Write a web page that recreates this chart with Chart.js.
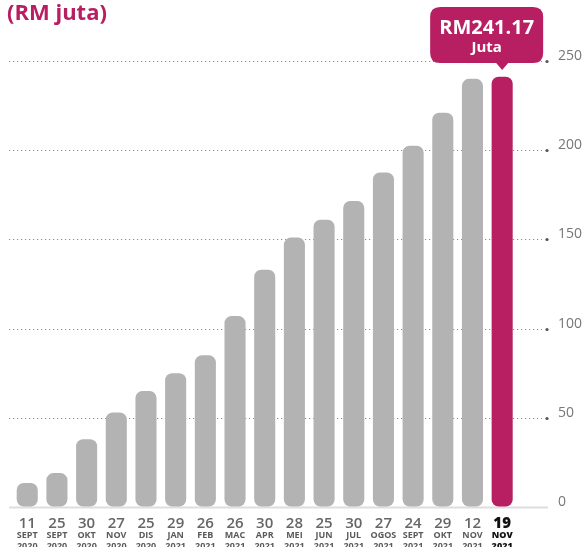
<!DOCTYPE html>
<html>
<head>
<meta charset="utf-8">
<script src="https://cdn.jsdelivr.net/npm/chart.js@4.4.0/dist/chart.umd.min.js"></script>
<style>
  html, body { margin: 0; padding: 0; background: #ffffff; }
  #wrap { position: relative; width: 583px; height: 547px; overflow: hidden; }
  canvas { display: block; }
</style>
</head>
<body>
<div id="wrap"><canvas id="c" width="583" height="547"></canvas></div>
<script>
const titleText = '(RM juta)';
const days = ['11','25','30','27','25','29','26','26','30','28','25','30','27','24','29','12','19'];
const months = ['SEPT','SEPT','OKT','NOV','DIS','JAN','FEB','MAC','APR','MEI','JUN','JUL','OGOS','SEPT','OKT','NOV','NOV'];
const years = ['2020','2020','2020','2020','2020','2021','2021','2021','2021','2021','2021','2021','2021','2021','2021','2021','2021'];
const values = [13.5, 19, 38, 53, 65, 75, 85, 107, 133, 151, 161, 171.5, 187.5, 202.5, 221, 240, 241.17];
const yTicks = [0, 50, 100, 150, 200, 250];
const calloutUnit = 'Juta';

const GREY = '#b3b3b3';
const MAGENTA = '#b81f62';
const FONT = '"Open Sans", "DejaVu Sans", sans-serif';

const lastIdx = values.length - 1;
const labels = days.map((d, i) => d + ' ' + months[i] + ' ' + years[i]);

const decorPlugin = {
  id: 'decor',
  beforeDatasetsDraw(chart) {
    const ctx = chart.ctx;
    const y = chart.scales.y;
    ctx.save();
    yTicks.forEach(v => {
      const py = Math.round(y.getPixelForValue(v)) + 0.5;
      if (v === 0) {
        ctx.strokeStyle = '#dedede';
        ctx.lineWidth = 2;
        ctx.setLineDash([]);
        ctx.beginPath();
        ctx.moveTo(9, py);
        ctx.lineTo(548, py);
        ctx.stroke();
      } else {
        ctx.strokeStyle = '#8c8c8c';
        ctx.lineWidth = 1.2;
        ctx.setLineDash([1.2, 2.8]);
        ctx.beginPath();
        ctx.moveTo(9, py);
        ctx.lineTo(542, py);
        ctx.stroke();
        ctx.setLineDash([]);
        ctx.fillStyle = '#555555';
        ctx.beginPath();
        ctx.arc(547, py, 1.6, 0, Math.PI * 2);
        ctx.fill();
      }
    });
    ctx.restore();
  },
  afterDraw(chart) {
    const ctx = chart.ctx;
    const x = chart.scales.x;
    ctx.save();
    // title
    ctx.fillStyle = MAGENTA;
    ctx.font = 'bold 22px ' + FONT;
    ctx.textAlign = 'left';
    ctx.textBaseline = 'alphabetic';
    ctx.fillText(titleText, 7, 20);

    // x labels
    ctx.textAlign = 'center';
    ctx.textBaseline = 'middle';
    days.forEach((d, i) => {
      const px = x.getPixelForValue(i);
      const last = i === lastIdx;
      ctx.fillStyle = last ? '#111111' : '#666666';
      ctx.font = (last ? '800 ' : '600 ') + '15px ' + FONT;
      ctx.fillText(d, px, 524);
      ctx.font = (last ? '800 ' : '700 ') + '9px ' + FONT;
      ctx.fillStyle = last ? '#111111' : '#5a5a5a';
      ctx.fillText(months[i], px, 535.5);
      ctx.fillText(years[i], px, 546.5);
    });

    // callout
    const meta = chart.getDatasetMeta(0);
    const bar = meta.data[lastIdx];
    const bx = bar.x;
    const left = bx - 72, right = bx + 41, top = 7, bottom = 63, r = 10;
    ctx.fillStyle = MAGENTA;
    ctx.beginPath();
    ctx.moveTo(left + r, top);
    ctx.lineTo(right - r, top);
    ctx.quadraticCurveTo(right, top, right, top + r);
    ctx.lineTo(right, bottom - r);
    ctx.quadraticCurveTo(right, bottom, right - r, bottom);
    ctx.lineTo(bx + 6, bottom);
    ctx.lineTo(bx, bottom + 7);
    ctx.lineTo(bx - 6, bottom);
    ctx.lineTo(left + r, bottom);
    ctx.quadraticCurveTo(left, bottom, left, bottom - r);
    ctx.lineTo(left, top + r);
    ctx.quadraticCurveTo(left, top, left + r, top);
    ctx.closePath();
    ctx.fill();
    const cx = (left + right) / 2;
    ctx.fillStyle = '#ffffff';
    ctx.font = 'bold 20px ' + FONT;
    ctx.fillText('RM' + values[lastIdx].toFixed(2), cx, 28);
    ctx.font = 'bold 15px ' + FONT;
    ctx.fillText(calloutUnit, cx, 48);
    ctx.restore();
  }
};

new Chart(document.getElementById('c'), {
  type: 'bar',
  data: {
    labels: labels,
    datasets: [{
      data: values,
      backgroundColor: values.map((v, i) => i === lastIdx ? MAGENTA : GREY),
      borderWidth: 0,
      borderRadius: 7,
      borderSkipped: false,
      barPercentage: 0.71,
      categoryPercentage: 1
    }]
  },
  options: {
    responsive: false,
    animation: false,
    devicePixelRatio: 1,
    layout: { padding: { top: 61, left: 12.4, bottom: 40, right: 0 } },
    plugins: { legend: { display: false }, tooltip: { enabled: false }, title: { display: false } },
    scales: {
      x: {
        display: false,
        offset: true,
        grid: { display: false }
      },
      y: {
        position: 'right',
        min: 0,
        max: 250,
        afterBuildTicks(scale) { scale.ticks = yTicks.map(v => ({ value: v })); },
        afterFit(scale) { scale.width = 66; },
        grid: { display: true, color: 'rgba(0,0,0,0)', drawOnChartArea: false, drawTicks: true, tickLength: 41 },
        border: { display: false },
        ticks: {
          padding: 0,
          labelOffset: -5,
          color: '#777777',
          font: { family: FONT, size: 14, weight: '400' }
        }
      }
    }
  },
  plugins: [decorPlugin]
});
</script>
</body>
</html>
